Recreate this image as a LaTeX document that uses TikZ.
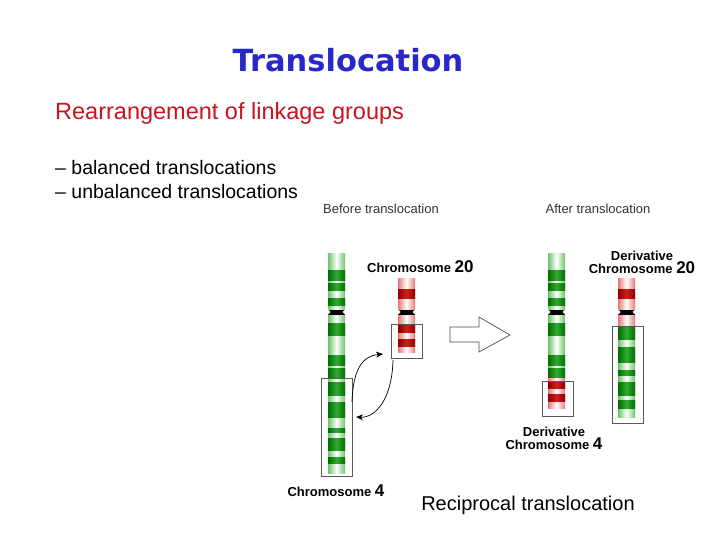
\documentclass[tikz,border=0pt]{standalone}
\usepackage{fontspec}
\setmainfont{Liberation Sans}
\newfontfamily\titlefont{DejaVu Sans}
\usetikzlibrary{arrows.meta}
\definecolor{tblue}{RGB}{40,40,200}
\definecolor{tred}{RGB}{200,20,30}
\definecolor{gD}{RGB}{0,110,0}\definecolor{gDc}{RGB}{50,170,50}
\definecolor{gL}{RGB}{110,195,110}
\definecolor{rD}{RGB}{140,0,0}\definecolor{rDc}{RGB}{210,30,30}
\definecolor{rL}{RGB}{230,120,120}
\definecolor{boxc}{RGB}{90,90,90}
\newcommand{\lightseg}[5]{\shade[left color=#5,right color=#5,middle color=white] (#1,#2) rectangle (#1+#3,#4);}
\newcommand{\darkseg}[5]{\shade[left color=#5,right color=#5,middle color=#5c] (#1,#2) rectangle (#1+#3,#4);}
\newcommand{\centro}[2]{\fill[black] (#1,#2-2.5) rectangle (#1+17,#2+2.5);
  \fill[white] (#1-0.5,#2-3) -- (#1+2.5,#2) -- (#1-0.5,#2+3) -- cycle;
  \fill[white] (#1+17.5,#2-3) -- (#1+14.5,#2) -- (#1+17.5,#2+3) -- cycle;}
\tikzset{lbl/.style={font=\bfseries\fontsize{13}{14}\selectfont, align=center, inner sep=0pt},
  small/.style={font=\fontsize{13}{14}\selectfont, text=black!80, inner sep=0pt},
  selbox/.style={draw=boxc, line width=0.8pt},
  swap/.style={-{Stealth[length=7pt,width=6pt]}, line width=0.7pt}}
\begin{document}
\begin{tikzpicture}[x=1pt,y=-1pt]
\useasboundingbox (0,0) rectangle (720,540);
\node[font=\titlefont\bfseries\fontsize{30.5}{33}\selectfont, text=tblue] (title) at (348,60) {Translocation};
\node[anchor=west, font=\fontsize{23.5}{26}\selectfont, text=tred, inner sep=0pt] (sub) at (55,113) {Rearrangement of linkage groups};
\node[anchor=west, font=\fontsize{19.5}{22}\selectfont, inner sep=0pt] (b1) at (55,168) {– balanced translocations};
\node[anchor=west, font=\fontsize{19.5}{22}\selectfont, inner sep=0pt] (b2) at (55,192) {– unbalanced translocations};
\node[small] (before) at (381,209) {Before translocation};
\node[small] (after) at (598,209) {After translocation};
% Chromosome 4
\lightseg{328}{253}{17}{473}{gL}
\foreach \a/\b in {270/280,283/290,298/305,323/335,355/365,368/377,382/395,402/417,428/432,438/450,457/463}
  {\darkseg{328}{\a}{17}{\b}{gD}}
\centro{328}{312}
% Chromosome 20
\lightseg{398}{278}{17}{352}{rL}
\foreach \a/\b in {289/298,325/332,339/346}{\darkseg{398}{\a}{17}{\b}{rD}}
\centro{398}{312}
% Derivative 4
\lightseg{548}{253}{17}{378}{gL}
\foreach \a/\b in {270/280,283/290,298/305,323/335,355/365,368/377}{\darkseg{548}{\a}{17}{\b}{gD}}
\lightseg{548}{378}{17}{408}{rL}
\foreach \a/\b in {381/388,394/401}{\darkseg{548}{\a}{17}{\b}{rD}}
\centro{548}{312}
% Derivative 20
\lightseg{618}{278}{17}{327}{rL}
\darkseg{618}{289}{17}{298}{rD}
\lightseg{618}{327}{17}{417}{gL}
\foreach \a/\b in {327/339,347/362,370/375,382/395,400/408}{\darkseg{618}{\a}{17}{\b}{gD}}
\centro{618}{312}
% boxes
\draw[selbox] (321,378) rectangle (352,476);
\draw[selbox] (391,324) rectangle (422,358);
\draw[selbox] (542,381) rectangle (573,416);
\draw[selbox] (612,326) rectangle (643,423);
% labels
\node[lbl, anchor=west] (c20) at (367,267) {Chromosome \fontsize{17}{17}\selectfont 20};
\node[lbl] (c4) at (336,491) {Chromosome \fontsize{17}{17}\selectfont 4};
\node[lbl, align=center] (d20) at (642,262) {Derivative\\[-1pt]Chromosome \fontsize{17}{17}\selectfont 20};
\node[lbl, align=center] (d4) at (554,438) {Derivative\\[-1pt]Chromosome \fontsize{17}{17}\selectfont 4};
\node[font=\fontsize{20}{23}\selectfont, inner sep=0pt] (recip) at (528,505) {Reciprocal translocation};
% swap arrows
\coordinate (s1) at (352,402); \coordinate (e1) at (383,354);
\coordinate (s2) at (393,360); \coordinate (e2) at (356,417);
\draw[swap] (s1) .. controls (353,370) and (362,356) .. (e1);
\draw[swap] (s2) .. controls (392,400) and (375,418) .. (e2);
% big open arrow
\draw[line width=0.7pt, draw=black!70, fill=white] (450,327) -- (479,327) -- (479,317) -- (510,335) -- (479,352) -- (479,342) -- (450,342) -- cycle;
\end{tikzpicture}
\end{document}
